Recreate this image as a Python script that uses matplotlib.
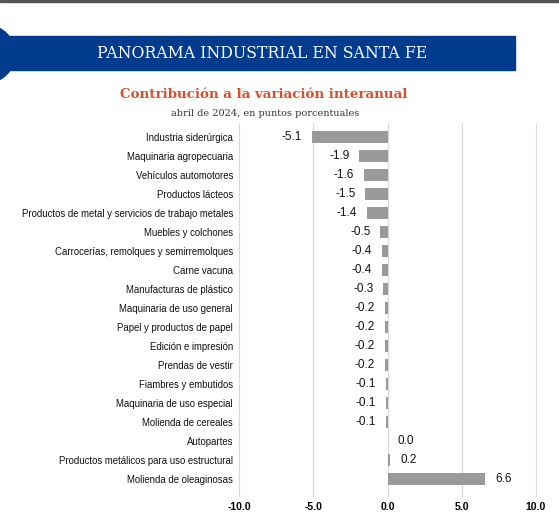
import matplotlib.pyplot as plt
from matplotlib.patches import Rectangle, Circle

categorias = [
    "Industria siderúrgica",
    "Maquinaria agropecuaria",
    "Vehículos automotores",
    "Productos lácteos",
    "Productos de metal y servicios de trabajo metales",
    "Muebles y colchones",
    "Carrocerías, remolques y semirremolques",
    "Carne vacuna",
    "Manufacturas de plástico",
    "Maquinaria de uso general",
    "Papel y productos de papel",
    "Edición e impresión",
    "Prendas de vestir",
    "Fiambres y embutidos",
    "Maquinaria de uso especial",
    "Molienda de cereales",
    "Autopartes",
    "Productos metálicos para uso estructural",
    "Molienda de oleaginosas",
]
valores = [-5.1, -1.9, -1.6, -1.5, -1.4, -0.5, -0.4, -0.4, -0.3, -0.2,
           -0.2, -0.2, -0.2, -0.1, -0.1, -0.1, 0.0, 0.2, 6.6]
xticks = [-10.0, -5.0, 0.0, 5.0, 10.0]

titulo = "Contribución a la variación interanual"
subtitulo = "abril de 2024, en puntos porcentuales"
encabezado = "PANORAMA INDUSTRIAL EN SANTA FE"

sans = "Liberation Sans"
serif = "DejaVu Serif"

fig = plt.figure(figsize=(5.59, 5.20), dpi=100)

# franja azul del encabezado
fig.add_artist(Rectangle((0, 1 - 70 / 520), 515 / 559, 34 / 520,
                         transform=fig.transFigure, color="#003b8e", zorder=1))
fig.add_artist(Circle((-14, 520 - 54), 29, transform=None, color="#003b8e", zorder=1))
fig.add_artist(Rectangle((0, 1 - 2 / 520), 1, 2 / 520,
                         transform=fig.transFigure, color="#555555", zorder=1))
fig.text(262 / 559, 1 - 53 / 520, encabezado, color="white", fontsize=11.3,
         family=serif, ha="center", va="center")
fig.text(264 / 559, 1 - 95 / 520, titulo, color="#d94f2b", fontsize=9.6,
         family=serif, fontweight="bold", ha="center", va="center")
fig.text(265 / 559, 1 - 113 / 520, subtitulo, color="#333333", fontsize=7.0,
         family=serif, ha="center", va="center")

ax = fig.add_axes([238 / 559, 1 - 497 / 520, (537 - 238) / 559, (497 - 123) / 520])
pos = list(range(len(categorias)))
ax.barh(pos, valores, height=0.6, color="#9a9a9a", zorder=3)

for y, v in zip(pos, valores):
    off = -7 if v < 0 else 7
    ax.annotate(f"{v:.1f}", (v, y), xytext=(off, 0), textcoords="offset points",
                ha="right" if v < 0 else "left", va="center",
                fontsize=8.5, family=sans, color="#111111")

ax.set_xlim(-10.1, 10.1)
ax.set_ylim(len(categorias) - 1 + 18 / 19, -14 / 19)
ax.set_xticks(xticks)
ax.set_xticklabels([f"{t:.1f}" for t in xticks], fontweight="bold",
                   fontsize=7.5, family=sans)
ax.set_yticks(pos)
ax.set_yticklabels(categorias, fontsize=6.9, family=sans, color="#111111")
ax.tick_params(length=0, pad=3.6)
ax.grid(axis="x", color="#d9d9d9", linewidth=0.9, zorder=0)
for s in ax.spines.values():
    s.set_visible(False)

fig.savefig("out.png", dpi=100)
